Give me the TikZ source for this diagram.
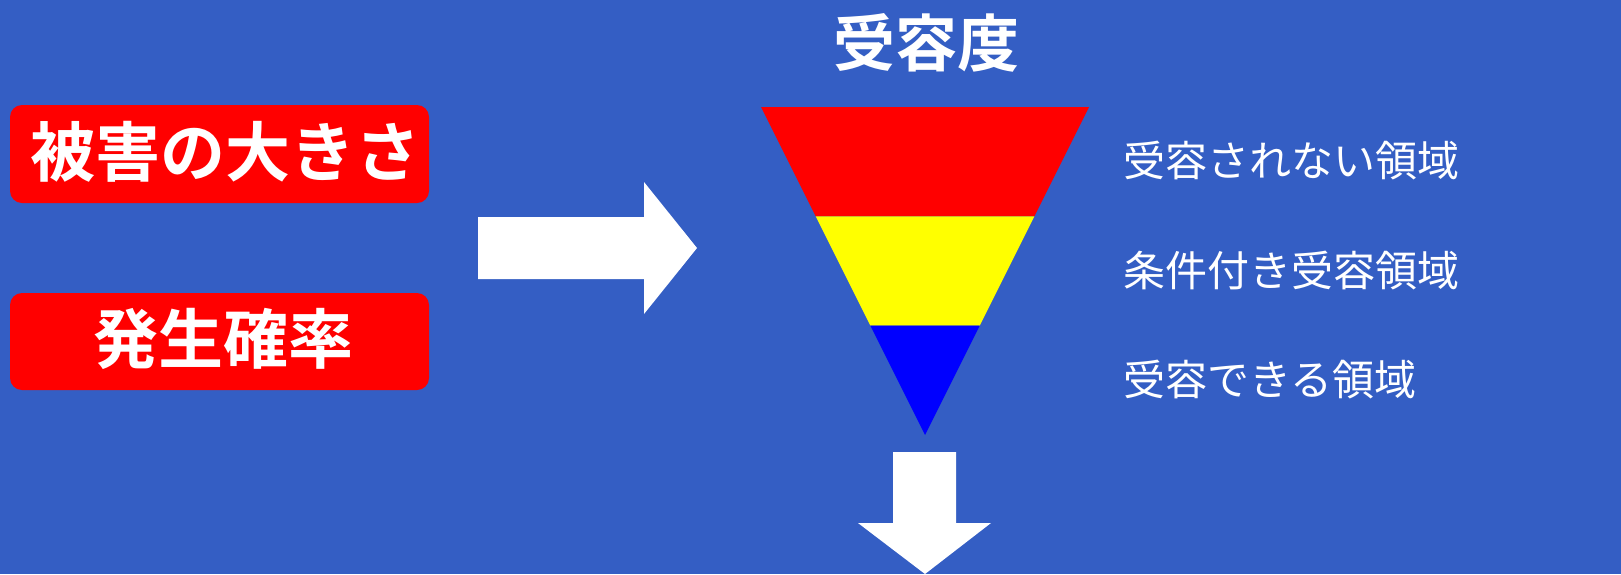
\documentclass[tikz,border=0pt]{standalone}
\usepackage{fontspec}
\usetikzlibrary{calc}
\newfontfamily\jp{Noto Sans CJK JP}
\newfontfamily\jpb{Noto Sans CJK JP Bold}
\definecolor{bg}{RGB}{52,94,196}
\definecolor{rd}{RGB}{255,0,0}
\definecolor{yl}{RGB}{255,255,0}
\definecolor{bl}{RGB}{0,0,255}
\tikzset{
  factorbox/.style={fill=rd,rounded corners=12pt},
  bigtext/.style={inner sep=0pt,text=white,font=\jpb\fontsize{65}{65}\selectfont,anchor=base},
  lbl/.style={inner sep=0pt,text=white,font=\jp\fontsize{42}{42}\selectfont,anchor=base west},
  blockarrow/.style={fill=white}
}
\begin{document}
\begin{tikzpicture}[x=1pt,y=-1pt]
\useasboundingbox (0,0) rectangle (1621,574);
\fill[bg] (0,0) rectangle (1621,574);
% factor boxes
\fill[factorbox] (10,105) rectangle (429,203);
\fill[factorbox] (10,293) rectangle (429,390);
\node[bigtext] (dmg) at (225.5,176.5) {被害の大きさ};
\node[bigtext] (prob) at (223,363) {発生確率};
% right block arrow
\fill[blockarrow] (478,217) -- (644,217) -- (644,182) -- (697,248) -- (644,314) -- (644,279) -- (478,279) -- cycle;
% title
\node[bigtext,font=\jpb\fontsize{62}{62}\selectfont] (title) at (926.5,66) {受容度};
% inverted triangle
\coordinate (tl) at (761,107);
\coordinate (tr) at (1089,107);
\coordinate (ap) at (925,435);
\fill[rd] (tl) -- (tr) -- ($(tr)!1/3!(ap)$) -- ($(tl)!1/3!(ap)$) -- cycle;
\fill[yl] ($(tl)!1/3!(ap)$) -- ($(tr)!1/3!(ap)$) -- ($(tr)!2/3!(ap)$) -- ($(tl)!2/3!(ap)$) -- cycle;
\fill[bl] ($(tl)!2/3!(ap)$) -- ($(tr)!2/3!(ap)$) -- (ap) -- cycle;
% labels
\node[lbl] (l1) at (1123,176.5) {受容されない領域};
\node[lbl] (l2) at (1123,286) {条件付き受容領域};
\node[lbl] (l3) at (1123,395) {受容できる領域};
% down block arrow
\fill[blockarrow] (893,452) -- (956,452) -- (956,523) -- (991,523) -- (925,574) -- (858,523) -- (893,523) -- cycle;
\end{tikzpicture}
\end{document}
